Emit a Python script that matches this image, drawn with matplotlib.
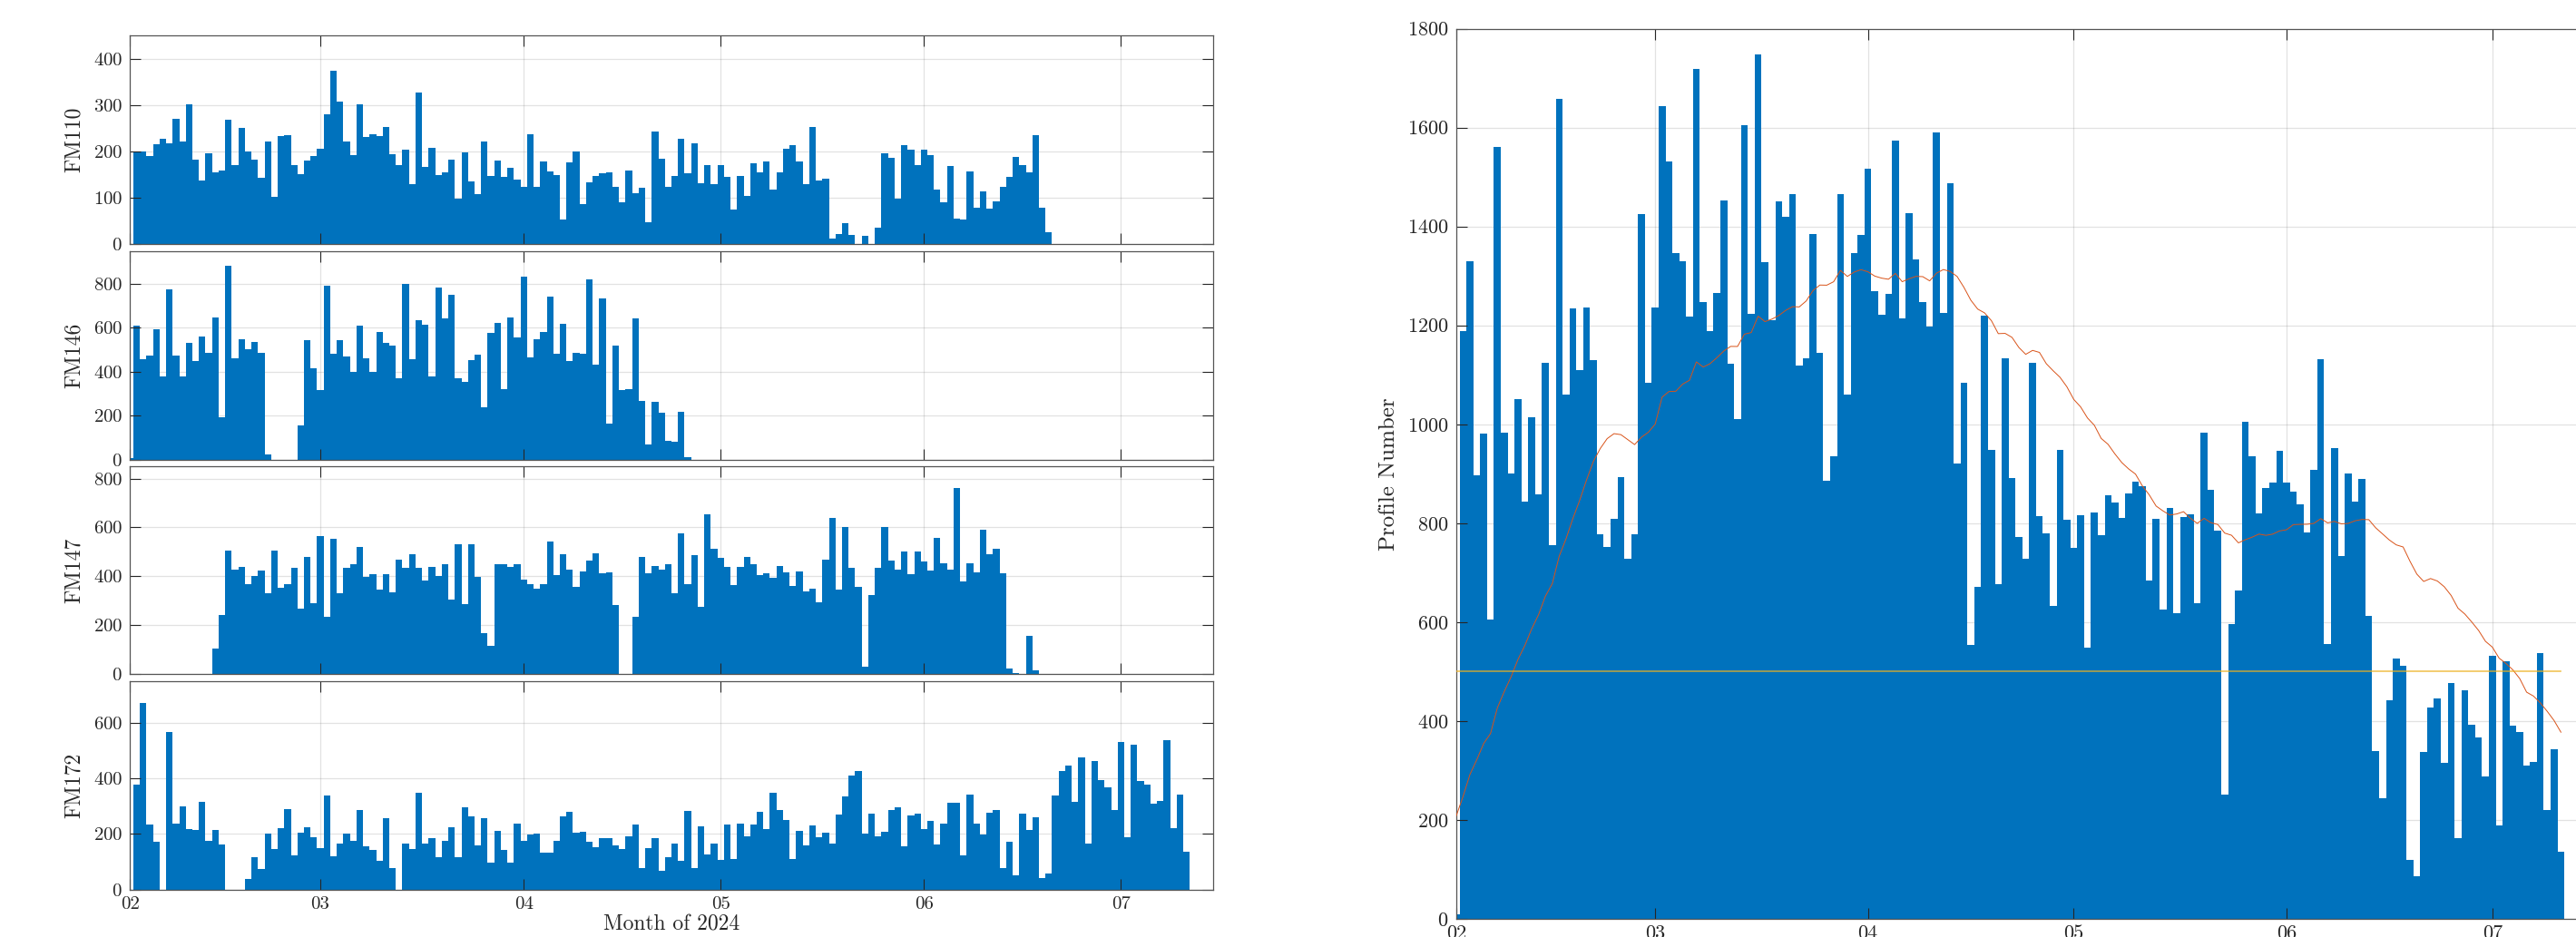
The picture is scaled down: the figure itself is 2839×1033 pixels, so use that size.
import numpy as np
import pandas as pd
import matplotlib
matplotlib.use("Agg")
import matplotlib.pyplot as plt
import matplotlib.dates as mdates

plt.rcParams['font.family'] = 'serif'
plt.rcParams['font.serif'] = ['cmr10', 'DejaVu Serif']
plt.rcParams['mathtext.fontset'] = 'cm'
plt.rcParams['axes.formatter.use_mathtext'] = True

# Daily profile counts per float, first value = 1 Feb 2024
fm110 = [0, 201, 200, 190, 215, 228, 217, 271, 222, 302, 182, 138, 196, 155, 160, 268, 170, 251, 200, 183,
         144, 222, 103, 234, 236, 170, 151, 181, 190, 206, 280, 375, 307, 222, 193, 302, 232, 238, 234, 253,
         194, 170, 204, 129, 327, 167, 208, 150, 155, 182, 99, 198, 136, 108, 222, 147, 181, 146, 164, 140,
         123, 238, 123, 178, 158, 150, 54, 177, 200, 86, 134, 148, 153, 156, 124, 91, 159, 111, 122, 47,
         244, 184, 123, 147, 227, 154, 217, 131, 170, 129, 170, 145, 75, 148, 105, 175, 156, 179, 118, 155,
         206, 214, 179, 129, 253, 138, 141, 13, 22, 46, 21, 0, 19, 0, 36, 197, 187, 98, 213, 205,
         170, 205, 192, 118, 90, 168, 56, 53, 157, 79, 114, 76, 93, 123, 146, 188, 170, 155, 235, 78, 27]

fm146 = [9, 610, 456, 474, 595, 378, 777, 474, 379, 530, 447, 559, 488, 649, 192, 884, 462, 546, 502, 537,
         487, 23, 0, 0, 0, 0, 155, 542, 415, 316, 790, 481, 542, 470, 400, 608, 460, 399, 580, 533,
         517, 370, 801, 459, 636, 613, 379, 784, 642, 752, 370, 353, 452, 477, 238, 575, 623, 320, 646, 557,
         833, 465, 546, 583, 740, 482, 619, 449, 485, 482, 821, 433, 735, 162, 517, 316, 322, 641, 268, 69,
         261, 213, 85, 82, 216, 11]

fm147 = [0, 0, 0, 0, 0, 0, 0, 0, 0, 0, 0, 0, 0, 106, 242, 506, 428, 437, 369, 401,
         423, 332, 504, 354, 369, 436, 267, 479, 290, 564, 233, 554, 333, 435, 449, 521, 399, 409, 347, 409,
         335, 470, 435, 489, 435, 383, 440, 401, 448, 306, 533, 286, 532, 399, 167, 116, 451, 451, 440, 449,
         386, 368, 349, 370, 543, 406, 489, 428, 358, 421, 463, 494, 414, 417, 283, 0, 0, 235, 479, 411,
         444, 428, 448, 333, 577, 367, 486, 275, 653, 512, 475, 437, 363, 437, 479, 448, 407, 414, 393, 441,
         416, 360, 419, 337, 348, 293, 467, 640, 347, 601, 435, 358, 31, 323, 436, 600, 464, 427, 501, 409,
         502, 460, 423, 559, 455, 426, 762, 378, 453, 417, 589, 491, 512, 412, 23, 4, 0, 156, 17]

fm172 = [0, 377, 673, 233, 172, 0, 566, 238, 299, 218, 214, 317, 174, 214, 162, 0, 0, 0, 39, 116,
         75, 200, 145, 221, 289, 122, 205, 223, 188, 150, 340, 121, 164, 203, 176, 288, 157, 142, 104, 257,
         76, 0, 164, 146, 350, 165, 184, 116, 174, 225, 116, 297, 265, 160, 258, 98, 211, 143, 97, 236,
         174, 198, 203, 133, 133, 176, 264, 279, 205, 208, 173, 151, 186, 185, 159, 147, 191, 233, 79, 150,
         185, 67, 116, 166, 104, 282, 77, 227, 126, 166, 106, 234, 111, 236, 191, 234, 279, 218, 350, 288,
         252, 111, 211, 159, 230, 187, 205, 165, 270, 336, 411, 427, 201, 273, 191, 208, 285, 295, 157, 268,
         274, 217, 248, 162, 237, 313, 313, 124, 341, 237, 198, 277, 285, 77, 171, 52, 272, 215, 259, 41,
         59, 338, 428, 445, 316, 477, 164, 463, 393, 367, 288, 531, 188, 520, 391, 378, 310, 318, 538, 221,
         343, 136]

# Fleet totals for the last days of January (feed the 30-day running mean)
jan_total = [156, 508, 954, 1028, 1081, 976, 786, 742]

float_names = ['FM110', 'FM146', 'FM147', 'FM172']
float_ylim = [450, 950, 850, 750]
float_yticks = [[0, 100, 200, 300, 400], [0, 200, 400, 600, 800],
                [0, 200, 400, 600, 800], [0, 200, 400, 600]]
target_line = 500

BLUE = '#0072BD'
ORANGE = '#D95319'
YELLOW = '#EDB120'
AXC = '#262626'

n_days = len(fm172)
series = []
for s in (fm110, fm146, fm147, fm172):
    arr = np.zeros(n_days)
    arr[:len(s)] = s
    series.append(arr)
total = np.sum(series, axis=0)

feb1 = np.datetime64('2024-02-01')
dates = mdates.date2num(feb1 + np.arange(n_days))
jan_dates = mdates.date2num(np.datetime64('2024-01-24') + np.arange(len(jan_total)))

all_total = np.concatenate([jan_total, total])
running = (pd.Series(all_total).rolling(30, min_periods=1).sum() / 30).to_numpy()[len(jan_total):]

xlim = (mdates.date2num(np.datetime64('2024-02-01')), mdates.date2num(np.datetime64('2024-07-15')))
month_ticks = [mdates.date2num(np.datetime64(f'2024-{m:02d}-01')) for m in range(2, 8)]

fig = plt.figure(figsize=(28.39, 10.33), dpi=100)


def style(ax, yticks, ylim, labelsize=15, ypad=6, xpad=5):
    ax.set_xlim(xlim)
    ax.set_ylim(0, ylim)
    ax.set_xticks(month_ticks)
    ax.xaxis.set_major_formatter(mdates.DateFormatter('%m'))
    ax.set_yticks(yticks)
    ax.tick_params(direction='in', length=8.5, width=0.8, top=True, right=True,
                   colors=AXC, labelsize=labelsize)
    ax.tick_params(axis='y', pad=ypad)
    ax.tick_params(axis='x', pad=xpad)
    for sp in ax.spines.values():
        sp.set_color('#555555')
        sp.set_linewidth(0.9)
    for yv in yticks:
        ax.axhline(yv, color=AXC, alpha=0.13, lw=0.9, zorder=0)
    for xv in month_ticks:
        ax.axvline(xv, color=AXC, alpha=0.13, lw=0.9, zorder=0)


left, width = 0.05048, 0.42033
boxes = [(0.7393, 0.2227), (0.5095, 0.2227), (0.2804, 0.2220), (0.0506, 0.2224)]
for i, (name, vals) in enumerate(zip(float_names, series)):
    b, h = boxes[i]
    ax = fig.add_axes([left, b, width, h])
    ax.bar(dates, vals, width=1.0, align='center', color=BLUE, linewidth=0, zorder=1)
    style(ax, float_yticks[i], float_ylim[i], ypad=6)
    ax.set_ylabel(name, fontsize=17, color=AXC)
    ax.yaxis.set_label_coords(-0.042, 0.5)
    if i < 3:
        ax.tick_params(labelbottom=False)
    else:
        ax.set_xlabel('Month of 2024', fontsize=17, color=AXC, labelpad=2)

axr = fig.add_axes([0.5653, 0.01936, 0.4395, 0.9501])
axr.bar(jan_dates, jan_total, width=1.0, align='center', color=BLUE, linewidth=0, zorder=1)
axr.bar(dates, total, width=1.0, align='center', color=BLUE, linewidth=0, zorder=1)
axr.plot(dates, running, color=ORANGE, lw=0.7, zorder=3)
axr.plot([dates[0], dates[-1]], [target_line, target_line], color=YELLOW, lw=1.2, alpha=0.75, zorder=3)
style(axr, list(range(0, 1801, 200)), 1800, labelsize=16, ypad=6, xpad=5)
axr.set_ylabel('Profile Number', fontsize=18, color=AXC)
axr.yaxis.set_label_coords(-0.050, 0.5)

fig.savefig('out.png', dpi=100)
